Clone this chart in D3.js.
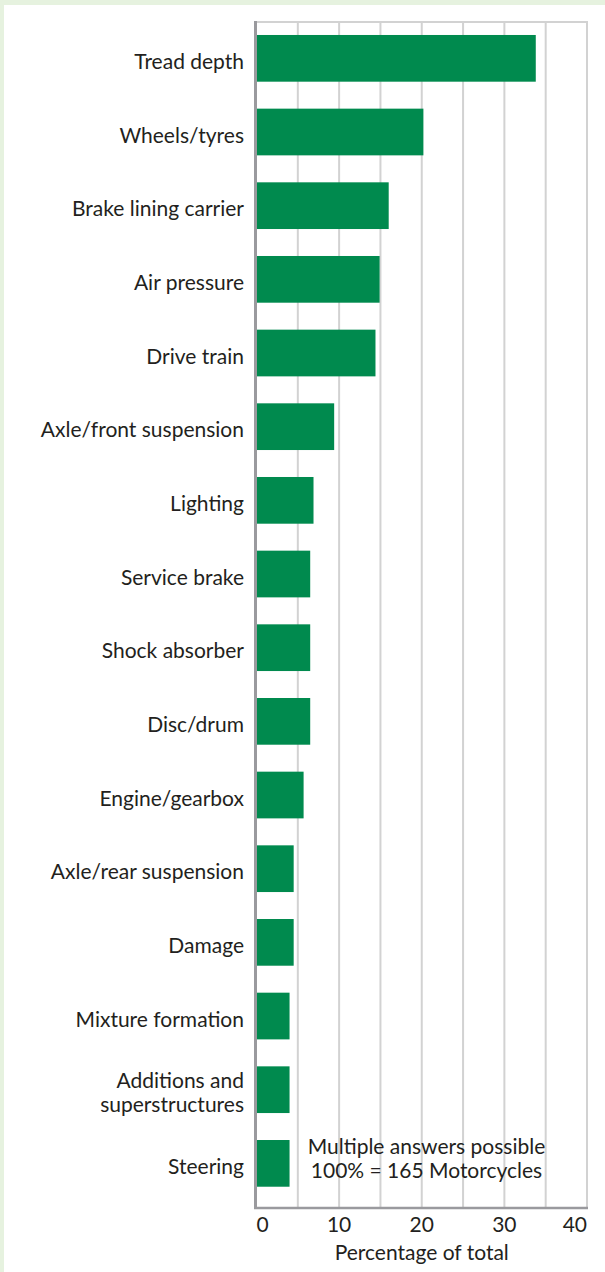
<!DOCTYPE html>
<html>
<head>
<meta charset="utf-8">
<script src="https://cdn.jsdelivr.net/npm/d3@7"></script>
<style>
  html, body { margin: 0; padding: 0; background: #e6f2df; }
  svg { display: block; }
  text { font-family: Lato, "Open Sans", sans-serif; fill: #231f20; }
</style>
</head>
<body>
<svg id="chart" width="605" height="1272"></svg>
<script>
const categories = [
  "Tread depth", "Wheels/tyres", "Brake lining carrier", "Air pressure",
  "Drive train", "Axle/front suspension", "Lighting", "Service brake",
  "Shock absorber", "Disc/drum", "Engine/gearbox", "Axle/rear suspension",
  "Damage", "Mixture formation", "Additions and\nsuperstructures", "Steering"
];
const values = [33.8, 20.2, 16.0, 14.9, 14.4, 9.4, 6.9, 6.5, 6.5, 6.5, 5.7, 4.5, 4.5, 4.0, 4.0, 4.0];
const xTicks = [0, 10, 20, 30, 40];
const gridValues = [5, 10, 15, 20, 25, 30, 35, 40];
const xTitle = "Percentage of total";
const noteLines = ["Multiple answers possible", "100% = 165 Motorcycles"];

const svg = d3.select("#chart");
const W = 605, H = 1272;

// white panel
svg.append("rect").attr("x", 4).attr("y", 5).attr("width", W - 4).attr("height", H - 5).attr("fill", "#ffffff");

const x = d3.scaleLinear().domain([0, 40]).range([256.5, 587]);
const y = d3.scaleBand().domain(categories).range([21.5, 1200.2]).paddingInner(0.366).paddingOuter(0.183);
const plotTop = 22, plotBottom = 1208;

// grid
const grid = svg.append("g");
grid.selectAll("line.v").data(gridValues).join("line")
  .attr("x1", d => x(d)).attr("x2", d => x(d))
  .attr("y1", plotTop).attr("y2", plotBottom)
  .attr("stroke", "#d2d2d2").attr("stroke-width", 2);
grid.append("line")
  .attr("x1", x(0)).attr("x2", x(40) + 1)
  .attr("y1", plotTop).attr("y2", plotTop)
  .attr("stroke", "#d2d2d2").attr("stroke-width", 2);

// bars
svg.append("g").selectAll("rect").data(values).join("rect")
  .attr("x", x(0))
  .attr("y", (d, i) => y(categories[i]))
  .attr("width", d => x(d) - x(0))
  .attr("height", y.bandwidth())
  .attr("fill", "#008a4e");

// axes lines
svg.append("line").attr("x1", 255.5).attr("x2", 255.5).attr("y1", plotTop - 1).attr("y2", plotBottom + 1)
  .attr("stroke", "#9a9a9e").attr("stroke-width", 3);
svg.append("line").attr("x1", 254).attr("x2", x(40) + 1).attr("y1", plotBottom).attr("y2", plotBottom)
  .attr("stroke", "#9a9a9e").attr("stroke-width", 2.5);

// category labels
const labels = svg.append("g").attr("font-size", 21);
categories.forEach((c, i) => {
  const lines = c.split("\n");
  const cy = y(c) + y.bandwidth() / 2;
  const lh = 24;
  const t = labels.append("text").attr("text-anchor", "end").attr("x", 244);
  lines.forEach((ln, j) => {
    t.append("tspan").attr("x", 244)
      .attr("y", cy + 10.5 + (j - (lines.length - 1) / 2) * lh)
      .text(ln);
  });
});

// x tick labels
svg.append("g").attr("font-size", 21).selectAll("text").data(xTicks).join("text")
  .attr("x", d => x(d))
  .attr("y", 1232)
  .attr("text-anchor", (d, i) => i === 0 ? "start" : (i === xTicks.length - 1 ? "end" : "middle"))
  .text(d => d);

// axis title
svg.append("text").attr("font-size", 21).attr("text-anchor", "middle")
  .attr("x", (x(0) + x(40)) / 2).attr("y", 1260).text(xTitle);

// note
const note = svg.append("text").attr("font-size", 21).attr("text-anchor", "middle");
noteLines.forEach((ln, j) => {
  note.append("tspan").attr("x", 426.5).attr("y", 1153.5 + j * 24.5).text(ln);
});
</script>
</body>
</html>
